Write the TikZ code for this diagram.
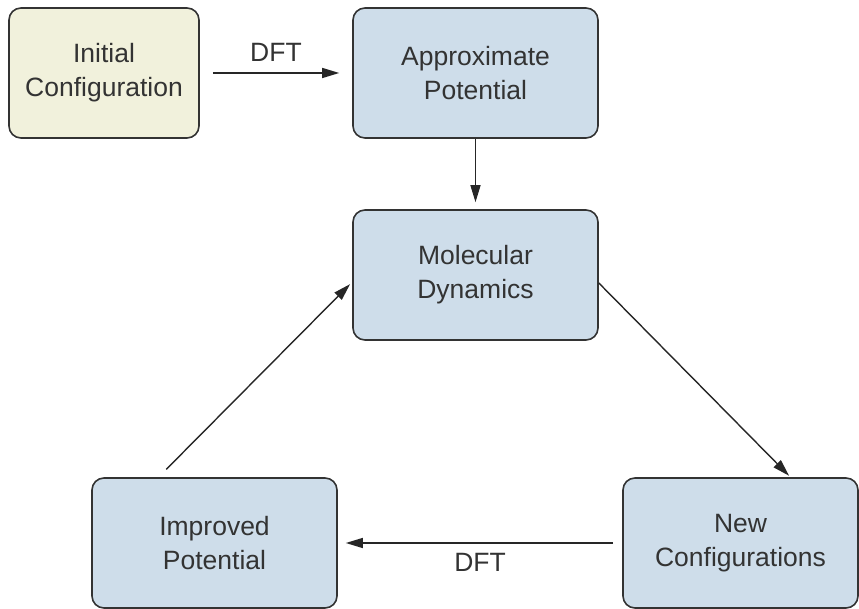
\documentclass[tikz,border=0pt]{standalone}
\usepackage{fontspec}
\setmainfont{Liberation Sans}
\usepackage{xcolor}
\usepackage{tikz}
\usetikzlibrary{
  arrows.meta,
  positioning,
  calc
}
\definecolor{boxblue}{HTML}{CEDDEA}
\definecolor{boxcream}{HTML}{F1F1DC}
\definecolor{edgegray}{HTML}{333333}

\begin{document}
\begin{tikzpicture}
  [
    x=1pt, y=1pt,
    every node/.style={font=\fontsize{26.5}{34}\selectfont, text=black!80, align=center},
    stage/.style={draw=edgegray, line width=1.6pt, rounded corners=12pt,
      fill=boxblue, minimum height=130pt, inner sep=0pt},
    start/.style={stage, fill=boxcream},
    link/.style={-{Triangle[length=17pt,width=10pt]}, line width=1.4pt, draw=black!85},
  ]
  % \draw[help lines] grid(10,10);
  \useasboundingbox (0,0) rectangle (859,609);
  \node [start, minimum width=190pt] (init) at (104,536) {Initial\\Configuration};
  \node [stage, minimum width=245pt] (approx) at (475.5,536) {Approximate\\Potential};
  \node [stage, minimum width=245pt] (md) at (475.5,334) {Molecular\\Dynamics};
  \node [stage, minimum width=235pt] (newconf) at (740.5,66) {New\\Configurations};
  \node [stage, minimum width=245pt] (improved) at (214.5,66) {Improved\\Potential};

  \draw [link, shorten <=13pt, shorten >=13pt] (init) -- node [above=7pt] {DFT} (approx);
  \draw [link, shorten >=7pt] (approx) -- (md);
  \draw [link, shorten >=2pt] ([yshift=-8pt]md.east) -- ([xshift=50pt]newconf.north);
  \draw [link, shorten <=9pt, shorten >=8pt] (newconf) -- node [below=6pt] {DFT} (improved);
  \draw [link, shorten <=11pt, shorten >=3pt] ([xshift=-56pt]improved.north) -- ([yshift=-7pt]md.west);
\end{tikzpicture}
\end{document}
